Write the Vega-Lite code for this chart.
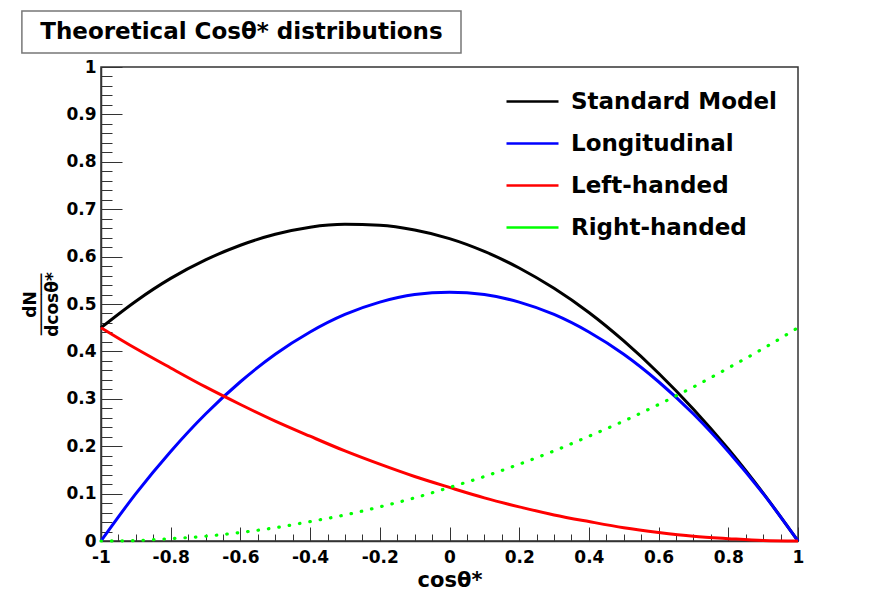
{
  "$schema": "https://vega.github.io/schema/vega-lite/v6.json",
  "background": "white",
  "padding": {"left": 21, "top": 10, "right": 0, "bottom": 0},
  "width": 697,
  "height": 474,
  "view": {"stroke": "#333", "strokeWidth": 1.5},
  "config": {
    "font": "DejaVu Sans",
    "axis": {
      "grid": false,
      "labelFont": "DejaVu Sans",
      "labelFontWeight": "bold",
      "labelColor": "#000",
      "titleFont": "DejaVu Sans",
      "titleFontWeight": "bold",
      "titleColor": "#000",
      "domainColor": "#333",
      "domainWidth": 1.5,
      "tickColor": "#333",
      "tickWidth": 1,
      "labelFlush": false,
      "labelOverlap": false
    }
  },
  "data": {
    "values": [
      {"x": -1, "Standard Model": 0.45, "Longitudinal": 0, "Left-handed": 0.45, "Right-handed": 0},
      {"x": -0.9, "Standard Model": 0.506, "Longitudinal": 0.1, "Left-handed": 0.406, "Right-handed": 0.001},
      {"x": -0.8, "Standard Model": 0.554, "Longitudinal": 0.189, "Left-handed": 0.365, "Right-handed": 0.005},
      {"x": -0.7, "Standard Model": 0.593, "Longitudinal": 0.268, "Left-handed": 0.325, "Right-handed": 0.01},
      {"x": -0.6, "Standard Model": 0.624, "Longitudinal": 0.336, "Left-handed": 0.288, "Right-handed": 0.018},
      {"x": -0.5, "Standard Model": 0.647, "Longitudinal": 0.394, "Left-handed": 0.253, "Right-handed": 0.028},
      {"x": -0.4, "Standard Model": 0.662, "Longitudinal": 0.441, "Left-handed": 0.221, "Right-handed": 0.041},
      {"x": -0.3, "Standard Model": 0.668, "Longitudinal": 0.478, "Left-handed": 0.19, "Right-handed": 0.055},
      {"x": -0.2, "Standard Model": 0.666, "Longitudinal": 0.504, "Left-handed": 0.162, "Right-handed": 0.072},
      {"x": -0.1, "Standard Model": 0.656, "Longitudinal": 0.52, "Left-handed": 0.136, "Right-handed": 0.091},
      {"x": 0, "Standard Model": 0.638, "Longitudinal": 0.525, "Left-handed": 0.113, "Right-handed": 0.113},
      {"x": 0.1, "Standard Model": 0.611, "Longitudinal": 0.52, "Left-handed": 0.091, "Right-handed": 0.136},
      {"x": 0.2, "Standard Model": 0.576, "Longitudinal": 0.504, "Left-handed": 0.072, "Right-handed": 0.162},
      {"x": 0.3, "Standard Model": 0.533, "Longitudinal": 0.478, "Left-handed": 0.055, "Right-handed": 0.19},
      {"x": 0.4, "Standard Model": 0.482, "Longitudinal": 0.441, "Left-handed": 0.041, "Right-handed": 0.221},
      {"x": 0.5, "Standard Model": 0.422, "Longitudinal": 0.394, "Left-handed": 0.028, "Right-handed": 0.253},
      {"x": 0.6, "Standard Model": 0.354, "Longitudinal": 0.336, "Left-handed": 0.018, "Right-handed": 0.288},
      {"x": 0.7, "Standard Model": 0.278, "Longitudinal": 0.268, "Left-handed": 0.01, "Right-handed": 0.325},
      {"x": 0.8, "Standard Model": 0.194, "Longitudinal": 0.189, "Left-handed": 0.005, "Right-handed": 0.365},
      {"x": 0.9, "Standard Model": 0.101, "Longitudinal": 0.1, "Left-handed": 0.001, "Right-handed": 0.406},
      {"x": 1, "Standard Model": 0, "Longitudinal": 0, "Left-handed": 0, "Right-handed": 0.45}
    ]
  },
  "transform": [
    {"fold": ["Standard Model", "Longitudinal", "Left-handed", "Right-handed"], "as": ["s", "y"]}
  ],
  "layer": [
    {
      "transform": [{"filter": "datum.s !== 'Right-handed'"}],
      "mark": {"type": "line", "interpolate": "monotone", "strokeWidth": 3},
      "encoding": {
        "x": {
          "field": "x", "type": "quantitative",
          "scale": {"domain": [-1, 1], "nice": false, "zero": false},
          "axis": {
            "orient": "bottom",
            "values": [-1, -0.8, -0.6, -0.4, -0.2, 0, 0.2, 0.4, 0.6, 0.8, 1],
            "tickSize": -14,
            "labelPadding": 22,
            "labelFontSize": 17,
            "format": "~g",
            "labelExpr": "replace(datum.label, '−', '-')",
            "title": "cosθ*",
            "titleFontSize": 21,
            "titlePadding": 4
          }
        },
        "y": {
          "field": "y", "type": "quantitative",
          "scale": {"domain": [0, 1], "nice": false},
          "axis": {
            "orient": "left",
            "values": [0, 0.1, 0.2, 0.3, 0.4, 0.5, 0.6, 0.7, 0.8, 0.9, 1],
            "tickSize": -21,
            "labelPadding": 26,
            "labelFontSize": 17,
            "format": "~g",
            "title": ["dN", "──────", "dcosθ*"],
            "titleFontSize": 17,
            "titleLineHeight": 11,
            "titlePadding": 4
          }
        },
        "color": {
          "field": "s", "type": "nominal",
          "scale": {
            "domain": ["Standard Model", "Longitudinal", "Left-handed", "Right-handed"],
            "range": ["#000000", "#0000ff", "#ff0000", "#00ff00"]
          },
          "legend": {
            "orient": "none",
            "legendX": 410,
            "legendY": 13,
            "title": null,
            "symbolType": "M-1.3,0H1.3",
            "symbolSize": 1600,
            "symbolStrokeWidth": 2.5,
            "symbolDash": [],
            "labelFont": "DejaVu Sans",
            "labelFontWeight": "bold",
            "labelFontSize": 23,
            "labelColor": "#000",
            "labelOffset": 17,
            "labelLimit": 400,
            "rowPadding": 8,
            "padding": 0
          }
        }
      }
    },
    {
      "transform": [{"filter": "datum.s === 'Right-handed'"}],
      "mark": {"type": "line", "interpolate": "monotone", "strokeWidth": 3.2, "strokeDash": [0.5, 10], "strokeCap": "round"},
      "encoding": {
        "x": {
          "field": "x", "type": "quantitative",
          "scale": {"domain": [-1, 1], "nice": false, "zero": false},
          "axis": {
            "orient": "bottom",
            "values": [-1, -0.95, -0.9, -0.85, -0.8, -0.75, -0.7, -0.65, -0.6, -0.55, -0.5, -0.45, -0.4, -0.35, -0.3, -0.25, -0.2, -0.15, -0.1, -0.05, 0, 0.05, 0.1, 0.15, 0.2, 0.25, 0.3, 0.35, 0.4, 0.45, 0.5, 0.55, 0.6, 0.65, 0.7, 0.75, 0.8, 0.85, 0.9, 0.95, 1],
            "tickSize": -7,
            "labels": false,
            "domain": false,
            "title": null
          }
        },
        "y": {
          "field": "y", "type": "quantitative",
          "scale": {"domain": [0, 1], "nice": false},
          "axis": {
            "orient": "left",
            "values": [0, 0.02, 0.04, 0.06, 0.08, 0.1, 0.12, 0.14, 0.16, 0.18, 0.2, 0.22, 0.24, 0.26, 0.28, 0.3, 0.32, 0.34, 0.36, 0.38, 0.4, 0.42, 0.44, 0.46, 0.48, 0.5, 0.52, 0.54, 0.56, 0.58, 0.6, 0.62, 0.64, 0.66, 0.68, 0.7, 0.72, 0.74, 0.76, 0.78, 0.8, 0.82, 0.84, 0.86, 0.88, 0.9, 0.92, 0.94, 0.96, 0.98, 1],
            "tickSize": -11,
            "labels": false,
            "domain": false,
            "title": null
          }
        },
        "color": {"field": "s", "type": "nominal"}
      }
    },
    {
      "data": {"values": [{"t": "Theoretical Cosθ* distributions"}]},
      "transform": [],
      "mark": {"type": "rect", "fill": "white", "stroke": "#777", "strokeWidth": 1.5, "clip": false},
      "encoding": {
        "x": {"datum": -1.227, "type": "quantitative", "axis": null},
        "x2": {"datum": 0.033},
        "y": {"datum": 1.118, "type": "quantitative", "axis": null},
        "y2": {"datum": 1.0295}
      }
    },
    {
      "data": {"values": [{"t": "Theoretical Cosθ* distributions"}]},
      "transform": [],
      "mark": {"type": "text", "font": "DejaVu Sans", "fontWeight": "bold", "fontSize": 23, "color": "#000", "clip": false},
      "encoding": {
        "x": {"datum": -0.597, "type": "quantitative", "axis": null},
        "y": {"datum": 1.0738, "type": "quantitative", "axis": null},
        "text": {"field": "t", "type": "nominal"}
      }
    }
  ],
  "resolve": {"axis": {"x": "independent", "y": "independent"}}
}
